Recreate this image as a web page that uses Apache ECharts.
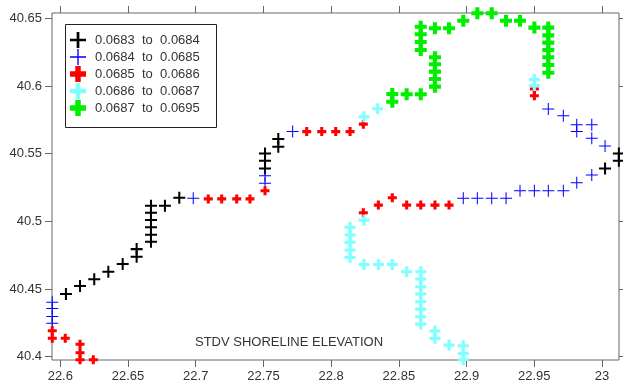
<!DOCTYPE html>
<html>
<head>
<meta charset="utf-8">
<script src="https://cdn.jsdelivr.net/npm/echarts@6/dist/echarts.min.js"></script>
<style>
html,body{margin:0;padding:0;background:#fff;}
#c{width:623px;height:383px;}
</style>
</head>
<body>
<div id="c"></div>
<script>
// ---- data ----
const legendNames = ['0.0683  to  0.0684', '0.0684  to  0.0685', '0.0685  to  0.0686', '0.0686  to  0.0687', '0.0687  to  0.0695'];
const titleText = 'STDV SHORELINE ELEVATION';
const xTicks = [22.6, 22.65, 22.7, 22.75, 22.8, 22.85, 22.9, 22.95, 23];
const yTicks = [40.4, 40.45, 40.5, 40.55, 40.6, 40.65];

const blackPts = [
  [22.6042, 40.4463], [22.6146, 40.4522], [22.6251, 40.4572], [22.6355, 40.4628], [22.6461, 40.4685],
  [22.6564, 40.4795], [22.6564, 40.4739],
  [22.667, 40.5115], [22.667, 40.5064], [22.667, 40.501], [22.667, 40.4956], [22.667, 40.4901], [22.667, 40.4849],
  [22.6773, 40.5115], [22.6879, 40.5174],
  [22.7512, 40.5502], [22.7512, 40.5448], [22.7512, 40.5391],
  [22.761, 40.5608], [22.761, 40.5551],
  [23.0125, 40.5502], [23.0125, 40.5448], [23.0023, 40.5391]
];
const bluePts = [
  [22.5941, 40.4402], [22.5941, 40.4357], [22.5941, 40.4298], [22.5941, 40.4248],
  [22.6982, 40.517],
  [22.7512, 40.5337], [22.7512, 40.5281],
  [22.7716, 40.5663],
  [22.9604, 40.583], [22.9715, 40.578],
  [22.9814, 40.5713], [22.9814, 40.5663],
  [22.9925, 40.5713], [22.9925, 40.5614],
  [23.0023, 40.5557],
  [22.9925, 40.5342], [22.9814, 40.5285],
  [22.9395, 40.5226], [22.9501, 40.5226], [22.9604, 40.5226], [22.9715, 40.5226],
  [22.8976, 40.517], [22.908, 40.517], [22.9186, 40.517], [22.9292, 40.517]
];
const redPts = [
  [22.5941, 40.4192], [22.5941, 40.4136], [22.6037, 40.4136],
  [22.6146, 40.4092], [22.6146, 40.403], [22.6146, 40.3978], [22.6244, 40.3978],
  [22.7093, 40.5166], [22.7192, 40.5166], [22.7303, 40.5166], [22.7401, 40.5166],
  [22.7512, 40.5226],
  [22.782, 40.5663], [22.7931, 40.5663], [22.8034, 40.5663], [22.814, 40.5663],
  [22.8238, 40.5718],
  [22.9501, 40.5978], [22.9501, 40.5928],
  [22.8238, 40.5064], [22.8349, 40.512], [22.8452, 40.5174],
  [22.8558, 40.512], [22.8662, 40.512], [22.8767, 40.512], [22.8871, 40.512]
];
const cyanPts = [
  [22.8243, 40.5773], [22.8344, 40.5832],
  [22.9501, 40.6048], [22.9501, 40.6004],
  [22.8243, 40.5008],
  [22.814, 40.4956], [22.814, 40.4899], [22.814, 40.4845], [22.814, 40.4788], [22.814, 40.4734],
  [22.8243, 40.4682], [22.8349, 40.4682], [22.8452, 40.4682],
  [22.8558, 40.4628],
  [22.8662, 40.4628], [22.8662, 40.4574], [22.8662, 40.4517], [22.8662, 40.4463],
  [22.8662, 40.4406], [22.8662, 40.4352], [22.8662, 40.4295], [22.8662, 40.4241],
  [22.8767, 40.419], [22.8767, 40.4136],
  [22.8871, 40.4086],
  [22.8976, 40.4081], [22.8976, 40.4025], [22.8976, 40.3978]
];
const greenPts = [
  [22.8452, 40.5941], [22.8452, 40.5884],
  [22.8558, 40.5939], [22.8662, 40.5939],
  [22.8767, 40.6212], [22.8767, 40.616], [22.8767, 40.6106], [22.8767, 40.6052], [22.8767, 40.5995],
  [22.8662, 40.6438], [22.8662, 40.6382], [22.8662, 40.6325], [22.8662, 40.6266],
  [22.8767, 40.6426], [22.8871, 40.6426],
  [22.8976, 40.6482],
  [22.908, 40.6537], [22.9186, 40.6537],
  [22.9292, 40.6482], [22.9395, 40.6482],
  [22.9501, 40.6431],
  [22.9604, 40.6431], [22.9604, 40.6374], [22.9604, 40.632], [22.9604, 40.6266],
  [22.9604, 40.6212], [22.9604, 40.6155], [22.9604, 40.6098]
];

// ---- drawing ----
function plusPath(t) {
  const a = (100 - t) / 2;
  return 'path://M' + a + ',0 h' + t + ' v' + a + ' h' + a + ' v' + t + ' h' + (-a) +
    ' v' + a + ' h' + (-t) + ' v' + (-a) + ' H0 v' + (-t) + ' h' + a + ' Z';
}
const FONT = '"Liberation Sans", Arial, sans-serif';
const frameColor = '#666';
const textColor = '#333';

const seriesDefs = [
  { pts: blackPts, color: '#000000', t: 17, size: 12 },
  { pts: bluePts, color: '#0000ff', t: 8.5, size: 12 },
  { pts: redPts, color: '#ff0000', t: 34, size: 9 },
  { pts: cyanPts, color: '#80ffff', t: 28, size: 11 },
  { pts: greenPts, color: '#00ee00', t: 34, size: 12 }
];

const chart = echarts.init(document.getElementById('c'), null, { renderer: 'canvas' });

const hiddenAxis = { show: false, type: 'value', splitLine: { show: false } };
const tickAxisCommon = {
  type: 'value',
  axisLine: { show: false },
  axisTick: { show: true, length: 7, lineStyle: { color: frameColor, width: 1 } },
  splitLine: { show: false }
};

chart.setOption({
  animation: false,
  backgroundColor: '#fff',
  grid: [
    { left: 52, right: 4, top: 13, bottom: 23, show: true, borderColor: frameColor, borderWidth: 1, backgroundColor: 'transparent' },
    { left: 60.3, right: 21, top: 18.3, bottom: 26.3 }
  ],
  xAxis: [
    Object.assign({}, hiddenAxis, { gridIndex: 0, min: 22.5939, max: 23.0126 }),
    Object.assign({}, tickAxisCommon, {
      gridIndex: 1, position: 'bottom', offset: 3.3, min: xTicks[0], max: xTicks[xTicks.length - 1], interval: 0.05,
      axisLabel: { show: true, margin: 10, fontSize: 13, fontFamily: FONT, color: textColor }
    }),
    Object.assign({}, tickAxisCommon, {
      gridIndex: 1, position: 'top', offset: 5.3, min: xTicks[0], max: xTicks[xTicks.length - 1], interval: 0.05,
      axisLabel: { show: false }
    })
  ],
  yAxis: [
    Object.assign({}, hiddenAxis, { gridIndex: 0, min: 40.3976, max: 40.6539 }),
    Object.assign({}, tickAxisCommon, {
      gridIndex: 1, position: 'left', offset: 8.3, min: yTicks[0], max: yTicks[yTicks.length - 1], interval: 0.05,
      axisLabel: { show: true, margin: 10, fontSize: 13, fontFamily: FONT, color: textColor }
    }),
    Object.assign({}, tickAxisCommon, {
      gridIndex: 1, position: 'right', offset: 17, min: yTicks[0], max: yTicks[yTicks.length - 1], interval: 0.05,
      axisLabel: { show: false }
    })
  ],
  legend: {
    orient: 'vertical',
    left: 70,
    top: 32,
    padding: 0,
    itemWidth: 24,
    itemHeight: 16,
    itemGap: 1,
    selectedMode: false,
    z: 10,
    textStyle: { fontSize: 13, fontFamily: FONT, color: textColor },
    data: legendNames
  },
  graphic: [
    { type: 'rect', z: 5, shape: { x: 65.5, y: 24.5, width: 151, height: 103 },
      style: { fill: '#fff', stroke: '#222', lineWidth: 1 } },
    { type: 'text', z: 5, x: 289, y: 342,
      style: { text: titleText, fill: textColor, font: '13px ' + FONT, textAlign: 'center', textVerticalAlign: 'middle' } }
  ],
  series: seriesDefs.map((d, i) => ({
    name: legendNames[i],
    type: 'scatter',
    xAxisIndex: 0,
    yAxisIndex: 0,
    symbol: plusPath(d.t),
    symbolSize: d.size,
    itemStyle: { color: d.color, opacity: 1 },
    emphasis: { disabled: true },
    data: d.pts
  }))
});
</script>
</body>
</html>
